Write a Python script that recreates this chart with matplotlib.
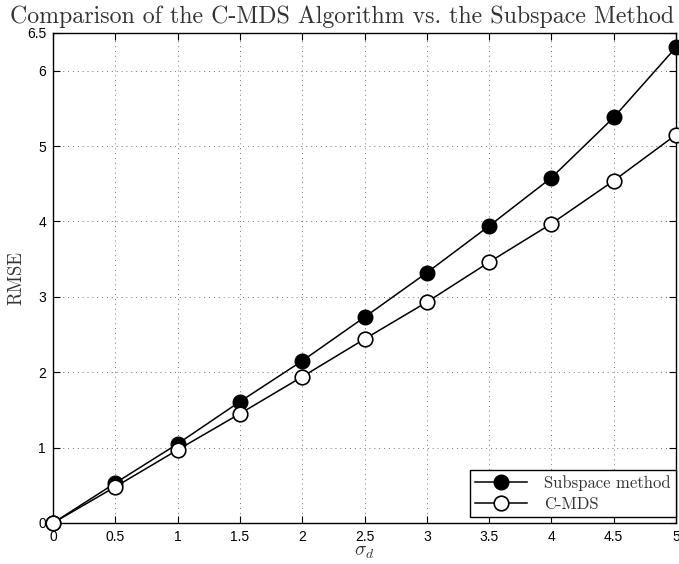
import matplotlib
matplotlib.use("Agg")
import matplotlib.pyplot as plt

sigma_d = [0, 0.5, 1, 1.5, 2, 2.5, 3, 3.5, 4, 4.5, 5]
subspace = [0.0, 0.53, 1.05, 1.61, 2.15, 2.73, 3.32, 3.94, 4.58, 5.38, 6.31]
cmds = [0.0, 0.48, 0.97, 1.45, 1.94, 2.44, 2.93, 3.46, 3.97, 4.54, 5.15]
xticks = [0, 0.5, 1, 1.5, 2, 2.5, 3, 3.5, 4, 4.5, 5]
yticks = [0, 1, 2, 3, 4, 5, 6, 6.5]

plt.rcParams['mathtext.fontset'] = 'cm'
plt.rcParams['font.family'] = ['Liberation Sans', 'DejaVu Sans']

fig = plt.figure(figsize=(6.79, 5.64), dpi=100)
ax = fig.add_axes([53/679, 1 - 523/564, (676-53)/679, (523-33)/564])

ax.plot(sigma_d, subspace, '-o', color='black', lw=1.1, markersize=10.5,
        markerfacecolor='black', markeredgecolor='black', label='Subspace method', clip_on=False, zorder=3)
ax.plot(sigma_d, cmds, '-o', color='black', lw=1.1, markersize=10.5,
        markerfacecolor='white', markeredgecolor='black', markeredgewidth=1.2, label='C-MDS', clip_on=False, zorder=4)

ax.set_xlim(0, 5)
ax.set_ylim(0, 6.5)
ax.set_xticks(xticks)
ax.set_xticklabels([('%g' % v) for v in xticks])
ax.set_yticks(yticks)
ax.set_yticklabels([('%g' % v) for v in yticks])
ax.tick_params(direction='in', top=True, right=True, length=5, width=0.8, labelsize=10, pad=5)
ax.grid(True, linestyle=(0, (1, 4)), color='black', lw=0.7, alpha=0.55)
for s in ax.spines.values():
    s.set_linewidth(1.0)

fig.text(342/679, 1 - 23/564, 'Comparison of the C-MDS Algorithm vs. the Subspace Method',
         family='cmr10', fontsize=17.2, color='#333333', ha='center', va='baseline')
ax.set_xlabel(r'$\sigma_d$', fontsize=14, color='#333333', labelpad=0)
ax.set_ylabel('RMSE', family='cmr10', fontsize=13.5, color='#333333')
ax.yaxis.set_label_coords(-0.045, 0.5)

leg = ax.legend(loc='lower right', bbox_to_anchor=(1.0, 0.012),
                prop={'family': 'cmr10', 'size': 12}, fancybox=False,
                edgecolor='black', framealpha=1, borderaxespad=0.0, handlelength=3.1,
                handletextpad=1.05, borderpad=0.3, labelspacing=0.35)
leg.get_frame().set_linewidth(1.0)
for t in leg.get_texts():
    t.set_color('#333333')

fig.savefig('out.png', dpi=100)
